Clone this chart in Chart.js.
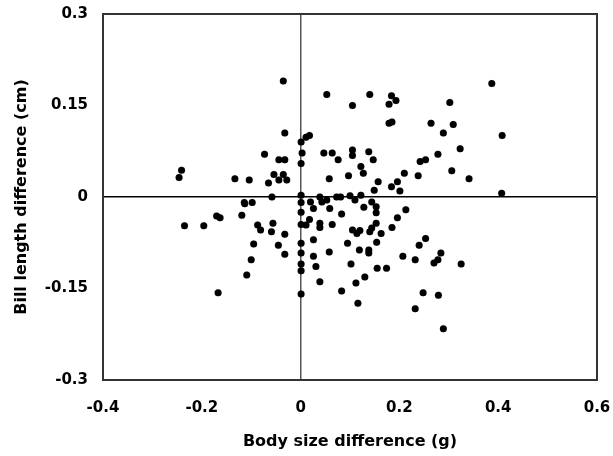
<!DOCTYPE html>
<html>
<head>
<meta charset="utf-8">
<script src="https://cdn.jsdelivr.net/npm/chart.js@4"></script>
<style>
  html, body { margin: 0; padding: 0; background: #fff; }
  #wrap { width: 613px; height: 456px; }
</style>
</head>
<body>
<div id="wrap"><canvas id="grafico" width="613" height="456"></canvas></div>
<script>
// Body size difference (g) vs bill length difference (cm)
const bodySizeDiff = [
  -0.035, -0.032, 0.001, 0.011, 0.018, -0.073, 0.003, -0.044, -0.032, 0.001,
  -0.241, -0.246, -0.133, -0.104, -0.054, -0.035, -0.065, -0.044, -0.028, -0.058,
  0.001,
  0.053, 0.140, 0.184, 0.193, 0.179, 0.105, 0.302, 0.387, 0.179, 0.185,
  0.264, 0.309, 0.289, 0.408, 0.047, 0.064, 0.105, 0.105, 0.138, 0.323,
  0.278, 0.076, 0.147, 0.242, 0.253, 0.122, 0.127, 0.058, 0.097, 0.210,
  0.238, 0.306, 0.341, 0.157, 0.149, 0.184, 0.196, 0.201, 0.407,
  0.001, 0.001, 0.001, 0.001, 0.001, 0.001, 0.001, 0.001,
  -0.114, -0.113, -0.098, -0.170, -0.163, -0.119, -0.235, -0.196, -0.087, -0.081,
  -0.056, -0.059, -0.032, -0.095, -0.045, -0.032, -0.100, -0.109, -0.167,
  0.020, 0.026, 0.039, 0.043, 0.053, 0.073, 0.081, 0.100, 0.110, 0.122,
  0.144, 0.153, 0.153, 0.128, 0.059, 0.083, 0.213, 0.196, 0.018, 0.039,
  0.039, 0.064, 0.011, 0.153, 0.144, 0.140, 0.105, 0.114, 0.120, 0.185,
  0.163, 0.026, 0.154, 0.095, 0.253, 0.240, 0.058, 0.119, 0.138, 0.138,
  0.026, 0.207, 0.232, 0.284, 0.278, 0.270, 0.325, 0.031, 0.102, 0.155,
  0.174, 0.130, 0.039, 0.112, 0.083, 0.248, 0.279, 0.116, 0.232, 0.289
];
const billLengthDiff = [
  0.190, 0.105, 0.090, 0.098, 0.101, 0.070, 0.072, 0.061, 0.061, 0.055,
  0.044, 0.032, 0.030, 0.028, 0.037, 0.037, 0.023, 0.028, 0.028, 0.000,
  0.003,
  0.168, 0.168, 0.166, 0.158, 0.152, 0.150, 0.155, 0.186, 0.121, 0.123,
  0.121, 0.119, 0.105, 0.101, 0.072, 0.072, 0.077, 0.068, 0.074, 0.079,
  0.070, 0.061, 0.061, 0.058, 0.061, 0.050, 0.039, 0.030, 0.035, 0.039,
  0.035, 0.043, 0.030, 0.025, 0.011, 0.017, 0.025, 0.010, 0.006,
  -0.009, -0.025, -0.045, -0.076, -0.092, -0.110, -0.121, -0.159,
  -0.009, -0.011, -0.009, -0.031, -0.034, -0.030, -0.047, -0.047, -0.046, -0.054,
  -0.043, -0.057, -0.061, -0.077, -0.079, -0.094, -0.103, -0.128, -0.157,
  -0.008, -0.019, 0.000, -0.008, -0.005, 0.000, 0.000, 0.002, -0.005, 0.003,
  -0.008, -0.016, -0.026, -0.017, -0.019, -0.028, -0.021, -0.034, -0.037, -0.043,
  -0.050, -0.045, -0.046, -0.043, -0.051, -0.057, -0.054, -0.060, -0.055, -0.050,
  -0.060, -0.070, -0.074, -0.076, -0.068, -0.079, -0.090, -0.087, -0.087, -0.092,
  -0.097, -0.097, -0.103, -0.092, -0.103, -0.108, -0.110, -0.114, -0.110, -0.117,
  -0.117, -0.131, -0.139, -0.141, -0.154, -0.157, -0.161, -0.174, -0.183, -0.216
];
const xTickLabels = ['-0.4', '-0.2', '0', '0.2', '0.4', '0.6'];
const yTickLabels = ['-0.3', '-0.15', '0', '0.15', '0.3'];

const puntos = bodySizeDiff.map((x, i) => ({ x: x, y: billLengthDiff[i] }));

// marco completo alrededor del area del grafico, dibujado al final
const marco = {
  id: 'marco',
  afterDraw(chart) {
    const a = chart.chartArea, c = chart.ctx;
    c.save();
    c.strokeStyle = '#333333';
    c.lineWidth = 2;
    c.beginPath();
    c.rect(Math.round(a.left), Math.round(a.top), Math.round(a.right - a.left), Math.round(a.bottom - a.top));
    c.stroke();
    c.restore();
  }
};

const fuenteTicks = { family: 'DejaVu Sans', size: 15, weight: 'bold' };
const fuenteTitulo = { family: 'DejaVu Sans', size: 16, weight: 'bold' };

new Chart(document.getElementById('grafico'), {
  type: 'scatter',
  data: { datasets: [{ data: puntos, backgroundColor: '#000', pointRadius: 3.5 }] },
  options: {
    responsive: false, animation: false,
    layout: { padding: { top: 14, right: 16, left: 0, bottom: 0 } },
    plugins: { legend: { display: false }, tooltip: { enabled: false } },
    scales: {
      x: {
        type: 'linear', position: 'bottom', min: -0.4, max: 0.6,
        afterBuildTicks: s => { s.ticks = xTickLabels.map(v => ({ value: parseFloat(v) })); },
        afterFit: s => { s.height = 76; s.paddingLeft = 0; s.paddingRight = 0; },
        ticks: { color: '#000', font: fuenteTicks, padding: 19, maxRotation: 0, autoSkip: false,
                 callback: v => xTickLabels.find(t => parseFloat(t) === v) },
        grid: { drawTicks: false, lineWidth: 1.5, color: c => c.tick && c.tick.value === 0 ? '#555' : 'transparent' },
        border: { display: false },
        title: { display: true, text: 'Body size difference (g)', color: '#000', font: fuenteTitulo, padding: { top: 0, bottom: 5 } }
      },
      y: {
        type: 'linear', position: 'left', min: -0.3, max: 0.3,
        afterBuildTicks: s => { s.ticks = yTickLabels.map(v => ({ value: parseFloat(v) })); },
        afterFit: s => { s.width = 103; s.paddingTop = 0; s.paddingBottom = 0; },
        ticks: { color: '#000', font: fuenteTicks, padding: 15, autoSkip: false,
                 callback: v => yTickLabels.find(t => parseFloat(t) === v) },
        grid: { drawTicks: false, lineWidth: 1.5, color: c => c.tick && c.tick.value === 0 ? '#000' : 'transparent' },
        border: { display: false },
        title: { display: true, text: 'Bill length difference (cm)', color: '#000', font: fuenteTitulo, padding: { top: 12, bottom: 0 } }
      }
    }
  },
  plugins: [marco]
});
</script>
</body>
</html>
